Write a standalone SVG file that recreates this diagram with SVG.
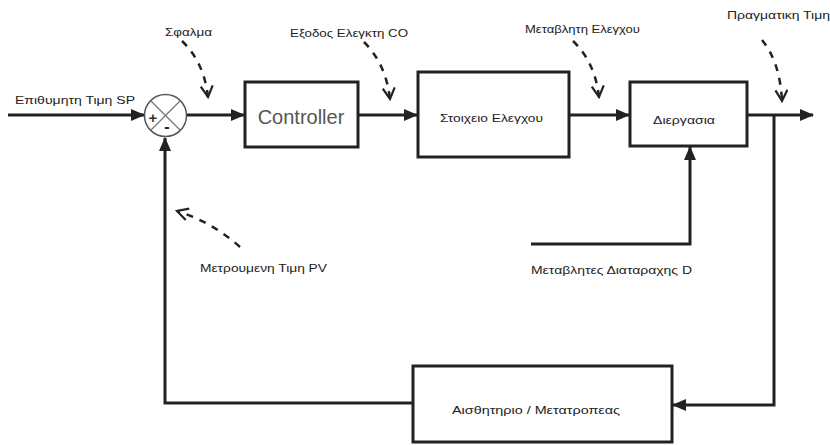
<svg xmlns="http://www.w3.org/2000/svg" width="830" height="445" viewBox="0 0 830 445">
<style>
.box{fill:#fff;stroke:#222;stroke-width:3}
.ln{fill:none;stroke:#222;stroke-width:3}
.ds{fill:none;stroke:#222;stroke-width:2.5;stroke-dasharray:7 7}
.t{font-family:"Liberation Sans",Arial,sans-serif;font-size:11px;fill:#222}
</style>
<defs>
<marker id="ah" markerUnits="userSpaceOnUse" markerWidth="14" markerHeight="12" refX="13" refY="6" orient="auto">
<path d="M0,0 L14,6 L0,12 Z" fill="#222"/>
</marker>
<marker id="oh" markerUnits="userSpaceOnUse" markerWidth="14" markerHeight="14" refX="12" refY="7" orient="auto">
<path d="M1,1 L12,7 L1,13" fill="none" stroke="#222" stroke-width="2.2"/>
</marker>
</defs>
<rect width="830" height="445" fill="#fff"/>
<g id="connectors">
<line class="ln" x1="8" y1="115" x2="144" y2="115" marker-end="url(#ah)"/>
<line class="ln" x1="187" y1="115" x2="244" y2="115" marker-end="url(#ah)"/>
<line class="ln" x1="358" y1="115" x2="417" y2="115" marker-end="url(#ah)"/>
<line class="ln" x1="569" y1="115" x2="629" y2="115" marker-end="url(#ah)"/>
<line class="ln" x1="747" y1="115" x2="813" y2="115" marker-end="url(#ah)"/>
<polyline class="ln" points="774,115 774,405 673,405" marker-end="url(#ah)"/>
<polyline class="ln" points="413,403 165,403 165,138" marker-end="url(#ah)"/>
<polyline class="ln" points="531,244 690,244 690,147" marker-end="url(#ah)"/>
<path class="ds" d="M182,41 Q204,62 208,97" marker-end="url(#oh)"/>
<path class="ds" d="M364,42 Q386,64 390,99" marker-end="url(#oh)"/>
<path class="ds" d="M573,41 Q595,62 599,97" marker-end="url(#oh)"/>
<path class="ds" d="M762,40 Q780,62 782,101" marker-end="url(#oh)"/>
<path class="ds" d="M240,247 Q212,222 177,211" marker-end="url(#oh)"/>
</g>
<g id="sum">
<circle cx="165.5" cy="115.5" r="21" fill="#fff" stroke="#555" stroke-width="1.5"/>
<line x1="150.5" y1="100.5" x2="180.5" y2="130.5" stroke="#777" stroke-width="1.2"/>
<line x1="180.5" y1="100.5" x2="150.5" y2="130.5" stroke="#777" stroke-width="1.2"/>
<text x="153" y="123" text-anchor="middle" font-family="Liberation Sans,Arial,sans-serif" font-size="15" font-weight="bold" fill="#333">+</text>
<text x="167" y="132" text-anchor="middle" font-family="Liberation Sans,Arial,sans-serif" font-size="16" font-weight="bold" fill="#222">-</text>
</g>
<g id="controller">
<rect class="box" x="245" y="82" width="113" height="65"/>
<text x="301" y="124" text-anchor="middle" font-family="Liberation Sans,Arial,sans-serif" font-size="20" fill="#555">Controller</text>
</g>
<g id="stoixeio">
<rect class="box" x="418" y="72" width="151" height="85"/>
<text class="t" x="440" y="122" textLength="103" lengthAdjust="spacingAndGlyphs">Στοιχειο Ελεγχου</text>
</g>
<g id="diergasia">
<rect class="box" x="630" y="82" width="117" height="64"/>
<text class="t" x="653" y="124" textLength="62" lengthAdjust="spacingAndGlyphs">Διεργασια</text>
</g>
<g id="aisthitirio">
<rect class="box" x="413" y="366" width="259" height="76"/>
<text class="t" x="452" y="414" textLength="168" lengthAdjust="spacingAndGlyphs">Αισθητηριο / Μετατροπεας</text>
</g>
<g id="labels">
<text class="t" x="15" y="104" textLength="120" lengthAdjust="spacingAndGlyphs">Επιθυμητη Τιμη SP</text>
<text class="t" x="165" y="36" textLength="47" lengthAdjust="spacingAndGlyphs">Σφαλμα</text>
<text class="t" x="290" y="37" textLength="118" lengthAdjust="spacingAndGlyphs">Εξοδος Ελεγκτη CO</text>
<text class="t" x="525" y="33" textLength="115" lengthAdjust="spacingAndGlyphs">Μεταβλητη Ελεγχου</text>
<text class="t" x="727" y="19" textLength="103" lengthAdjust="spacingAndGlyphs">Πραγματικη Τιμη</text>
<text class="t" x="200" y="272" textLength="127" lengthAdjust="spacingAndGlyphs">Μετρουμενη Τιμη PV</text>
<text class="t" x="531" y="274" textLength="161" lengthAdjust="spacingAndGlyphs">Μεταβλητες Διαταραχης D</text>
</g>
</svg>
